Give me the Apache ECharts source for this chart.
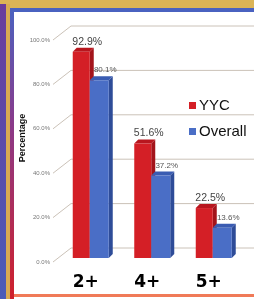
<!DOCTYPE html>
<html>
<head>
<meta charset="utf-8">
<script src="https://cdn.jsdelivr.net/npm/echarts@6/dist/echarts.min.js"></script>
<style>
  html, body { margin: 0; padding: 0; background: #fff; }
  #chart { width: 254px; height: 299px; }
</style>
</head>
<body>
<div id="chart"></div>
<script>
// data
const categories = ['2+', '4+', '5+']
const yycValues = [92.9, 51.6, 22.5]
const overallValues = [80.1, 37.2, 13.6]
const yTicks = [0, 20, 40, 60, 80, 100]

const DX = 4
const DY = -4

let myChart = echarts.init(document.getElementById('chart'))

function makeBar(front, side, top, left, width, labelSize, labelColor) {
  return function(params, api) {
    let idx = api.value(0)
    let val = api.value(1)
    let p = api.coord([idx, val])
    let p0 = api.coord([idx, 0])
    let x0 = p[0] + left
    let x1 = x0 + width
    let yt = p[1]
    let yb = p0[1]
    return {
      type: 'group',
      children: [
        { type: 'polygon', shape: { points: [[x1, yb], [x1 + DX, yb + DY], [x1 + DX, yt + DY], [x1, yt]] }, style: { fill: side } },
        { type: 'polygon', shape: { points: [[x0, yt], [x0 + DX, yt + DY], [x1 + DX, yt + DY], [x1, yt]] }, style: { fill: top } },
        { type: 'rect', shape: { x: x0, y: yt, width: width, height: yb - yt }, style: { fill: front } },
        {
          type: 'text',
          x: (x0 + x1) / 2 + 6,
          y: yt - 10,
          style: {
            text: val.toFixed(1) + '%',
            fontSize: labelSize,
            fill: labelColor,
            fontFamily: 'Liberation Sans',
            align: 'center',
            verticalAlign: 'middle'
          }
        }
      ]
    }
  }
}

function gridLine(params, api) {
  let y = api.coord([0, api.value(1)])[1]
  let cs = params.coordSys
  return {
    type: 'polyline',
    shape: { points: [[cs.x - 2, y + 4], [cs.x + 16, y - 10], [cs.x + cs.width + 30, y - 10]] },
    style: { stroke: '#cbc2b8', lineWidth: 1, fill: null }
  }
}

let option = {
  backgroundColor: '#ffffff',
  animation: false,
  graphic: [
    { type: 'rect', shape: { x: 0, y: 0, width: 254, height: 8 }, style: { fill: '#dcb456' } },
    { type: 'rect', shape: { x: 10, y: 8, width: 244, height: 4 }, style: { fill: '#4a62c0' } },
    {
      type: 'rect', shape: { x: 0, y: 4, width: 6, height: 295 },
      style: { fill: new echarts.graphic.LinearGradient(0, 0, 0, 1, [{ offset: 0, color: '#6a3c9c' }, { offset: 1, color: '#4a5cb8' }]) }
    },
    { type: 'rect', shape: { x: 6, y: 4, width: 4, height: 295 }, style: { fill: '#d8aa52' } },
    {
      type: 'rect', shape: { x: 10, y: 8, width: 4, height: 291 },
      style: { fill: new echarts.graphic.LinearGradient(0, 0, 0, 1, [{ offset: 0, color: '#4a62c0' }, { offset: 0.4, color: '#8a3a8a' }, { offset: 1, color: '#d0202a' }]) }
    },
    { type: 'rect', shape: { x: 14, y: 294, width: 240, height: 3 }, style: { fill: '#f07a58' } },
    {
      type: 'text', x: 23, y: 138, rotation: Math.PI / 2,
      style: { text: 'Percentage', fontSize: 9, fontWeight: 'bold', fill: '#111', fontFamily: 'Liberation Sans', align: 'center', verticalAlign: 'middle' }
    }
  ],
  legend: {
    data: ['YYC', 'Overall'],
    orient: 'vertical',
    left: 184,
    top: 93,
    icon: 'rect',
    itemWidth: 7,
    itemHeight: 7,
    itemGap: 11,
    textStyle: { fontSize: 15, color: '#111', fontFamily: 'Liberation Sans', padding: [0, 0, 0, -2] }
  },
  grid: {
    left: 55,
    right: 14.5,
    top: 36,
    bottom: 41,
    containLabel: false
  },
  xAxis: {
    type: 'category',
    data: categories,
    axisLine: { show: false },
    axisTick: { show: false },
    axisLabel: {
      margin: 16,
      fontSize: 17,
      fontWeight: 'bold',
      color: '#000',
      fontFamily: 'DejaVu Sans'
    }
  },
  yAxis: {
    type: 'value',
    min: 0,
    max: 100,
    interval: 20,
    axisLine: { show: false },
    axisTick: { show: false },
    splitLine: { show: false },
    axisLabel: {
      margin: 5,
      fontSize: 6,
      color: '#777',
      fontFamily: 'Liberation Sans',
      verticalAlign: 'top',
      padding: [1, 0, 0, 0],
      formatter: function(v) {
        return v.toFixed(1) + '%'
      }
    }
  },
  series: [
    {
      type: 'custom',
      silent: true,
      z: 1,
      renderItem: gridLine,
      encode: { x: 0, y: 1 },
      data: yTicks.map(v => [0, v])
    },
    {
      name: 'YYC',
      type: 'custom',
      z: 2,
      itemStyle: { color: '#d41f26' },
      renderItem: makeBar('#d41f26', '#a3141b', '#b8161e', -13, 17, 10.5, '#444'),
      encode: { x: 0, y: 1 },
      data: yycValues.map((v, i) => [i, v])
    },
    {
      name: 'Overall',
      type: 'custom',
      z: 3,
      itemStyle: { color: '#4a6ec6' },
      renderItem: makeBar('#4a6ec6', '#2e4c98', '#3a5cb2', 4, 19, 8, '#555'),
      encode: { x: 0, y: 1 },
      data: overallValues.map((v, i) => [i, v])
    }
  ]
}

myChart.setOption(option)
</script>
</body>
</html>
